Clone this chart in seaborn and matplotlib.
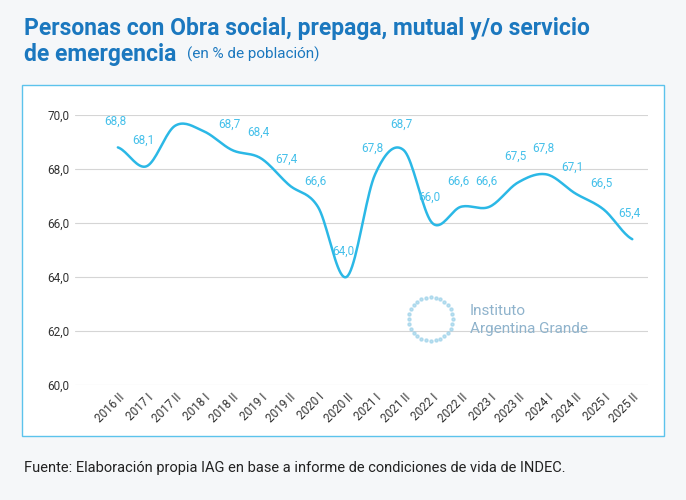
import numpy as np
import matplotlib.pyplot as plt
import seaborn as sns
from matplotlib.patches import Rectangle

periods = ['2016 II', '2017 I', '2017 II', '2018 I', '2018 II', '2019 I', '2019 II',
           '2020 I', '2020 II', '2021 I', '2021 II', '2022 I', '2022 II', '2023 I',
           '2023 II', '2024 I', '2024 II', '2025 I', '2025 II']
values = [68.8, 68.1, 69.6, 69.4, 68.7, 68.4, 67.4, 66.6, 64.0, 67.8, 68.7,
          66.0, 66.6, 66.6, 67.5, 67.8, 67.1, 66.5, 65.4]
labelled = [True, True, False, False, True, True, True, True, True, True, True,
            True, True, True, True, True, True, True, True]

LINE = '#2bb8e6'
TITLE = '#1b78bf'


def smooth(y, n=20):
    # catmull-rom through the points, for the rounded line look
    p = np.concatenate([[y[0]], y, [y[-1]]])
    xs, ys = [], []
    for i in range(1, len(p) - 2):
        t = np.linspace(0, 1, n, endpoint=False)
        p0, p1, p2, p3 = p[i - 1], p[i], p[i + 1], p[i + 2]
        yy = 0.5 * (2 * p1 + (-p0 + p2) * t + (2 * p0 - 5 * p1 + 4 * p2 - p3) * t ** 2
                    + (-p0 + 3 * p1 - 3 * p2 + p3) * t ** 3)
        xs.extend(i - 1 + t)
        ys.extend(yy)
    xs.append(len(y) - 1)
    ys.append(y[-1])
    return np.array(xs), np.array(ys)


sns.set_style('white')
plt.rcParams['font.family'] = ['Roboto', 'DejaVu Sans']

fig = plt.figure(figsize=(6.86, 5), dpi=100, facecolor='#f5f7f9')
fig.patches.append(Rectangle((22 / 686, 1 - 436 / 500), 642 / 686, 351 / 500,
                             transform=fig.transFigure, facecolor='white',
                             edgecolor='#5cc3ec', lw=1.0, zorder=-1))

ax = fig.add_axes([75 / 686, 1 - 385 / 500, 573 / 686, 270 / 500])
ax.set_facecolor('none')

sx, sy = smooth(np.array(values))
sns.lineplot(x=sx, y=sy, ax=ax, color=LINE, lw=1.8, sort=False, zorder=3)

for i, (v, show) in enumerate(zip(values, labelled)):
    if not show:
        continue
    ax.annotate(f'{v:.1f}'.replace('.', ','), (i, v), xytext=(-2, 14),
                textcoords='offset points', ha='center', va='bottom',
                fontsize=8.5, color='#45c0ea')

ax.set_ylim(60, 70)
ax.set_xlim(-1.5, 18.55)
ax.set_yticks(np.arange(60, 70.1, 2))
ax.set_yticklabels([f'{t:.1f}'.replace('.', ',') for t in np.arange(60, 70.1, 2)],
                   fontsize=8.5, color='#333333')
ax.set_xticks(range(len(periods)))
ax.set_xticklabels(periods, rotation=45, ha='right', rotation_mode='anchor',
                   fontsize=8.5, color='#333333')
ax.tick_params(axis='both', length=0, pad=4)
ax.grid(axis='y', color='#d5d5d5', lw=0.8)
for s in ax.spines.values():
    s.set_visible(False)

# watermark
ang = np.linspace(0, 2 * np.pi, 28, endpoint=False)
fig.add_artist(plt.Line2D(0.628 + 0.032 * np.cos(ang), 0.362 + 0.044 * np.sin(ang),
                          ls='none', marker='o', ms=2.2, color='#9fd3ea', alpha=0.7,
                          transform=fig.transFigure))
fig.text(0.685, 0.378, 'Instituto', fontsize=11, color='#8fb3cc', va='center')
fig.text(0.685, 0.343, 'Argentina Grande', fontsize=11, color='#8fb3cc', va='center')

fig.text(24 / 686, 1 - 28 / 500, 'Personas con Obra social, prepaga, mutual y/o servicio',
         fontsize=16.5, fontweight='bold', color=TITLE, va='center')
fig.text(24 / 686, 1 - 54 / 500, 'de emergencia', fontsize=16.5, fontweight='bold',
         color=TITLE, va='center')
fig.text(187 / 686, 1 - 54 / 500, '(en % de población)', fontsize=11,
         color=TITLE, va='center')
fig.text(24 / 686, 1 - 468 / 500,
         'Fuente: Elaboración propia IAG en base a informe de condiciones de vida de INDEC.',
         fontsize=10.5, color='#222222', va='center')

fig.savefig('out.png', dpi=100, facecolor=fig.get_facecolor())
